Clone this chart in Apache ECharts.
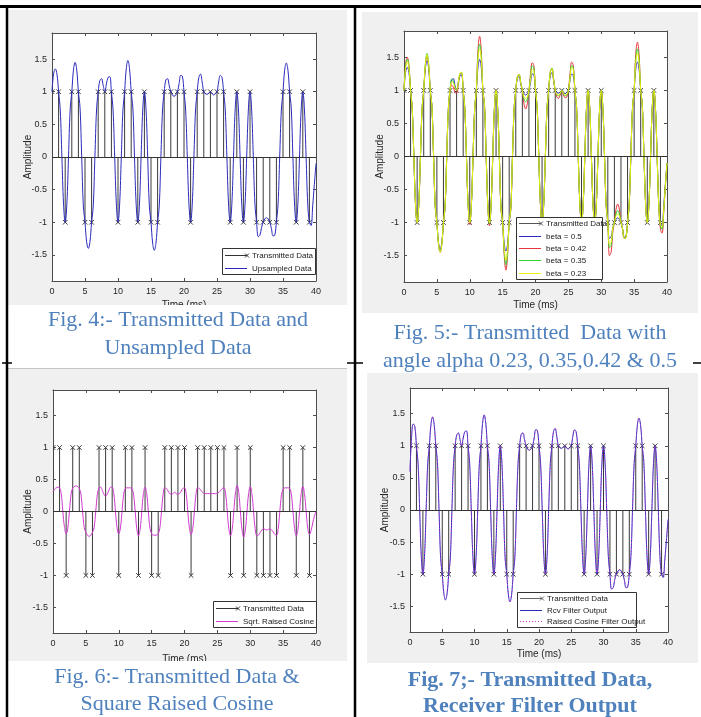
<!DOCTYPE html>
<html><head><meta charset="utf-8">
<script src="https://cdn.jsdelivr.net/npm/echarts@6/dist/echarts.min.js"></script>
<style>html,body{margin:0;padding:0;background:#fff}#c{width:701px;height:717px}</style>
</head><body><div id="c"></div><script>
// ---------- data ----------
const tBits = [0,1,2,3,4,5,6,7,8,9,10,11,12,13,14,15,16,17,18,19,20,21,22,23,24,25,26,27,28,29,30,31,32,33,34,35,36,37,38,39];
const bits = [1,1,-1,1,1,-1,-1,1,1,1,-1,1,1,-1,1,-1,-1,1,1,1,1,-1,1,1,1,1,1,-1,1,-1,1,-1,-1,-1,-1,1,1,-1,1,-1];
const tFine = [0,0.25,0.5,0.75,1,1.25,1.5,1.75,2,2.25,2.5,2.75,3,3.25,3.5,3.75,4,4.25,4.5,4.75,
 5,5.25,5.5,5.75,6,6.25,6.5,6.75,7,7.25,7.5,7.75,8,8.25,8.5,8.75,9,9.25,9.5,9.75,
 10,10.25,10.5,10.75,11,11.25,11.5,11.75,12,12.25,12.5,12.75,13,13.25,13.5,13.75,14,14.25,14.5,14.75,
 15,15.25,15.5,15.75,16,16.25,16.5,16.75,17,17.25,17.5,17.75,18,18.25,18.5,18.75,19,19.25,19.5,19.75,
 20,20.25,20.5,20.75,21,21.25,21.5,21.75,22,22.25,22.5,22.75,23,23.25,23.5,23.75,24,24.25,24.5,24.75,
 25,25.25,25.5,25.75,26,26.25,26.5,26.75,27,27.25,27.5,27.75,28,28.25,28.5,28.75,29,29.25,29.5,29.75,
 30,30.25,30.5,30.75,31,31.25,31.5,31.75,32,32.25,32.5,32.75,33,33.25,33.5,33.75,34,34.25,34.5,34.75,
 35,35.25,35.5,35.75,36,36.25,36.5,36.75,37,37.25,37.5,37.75,38,38.25,38.5,38.75,39,39.25,39.5,39.75,40];
const upsampled = [
 1.0,1.28,1.35,1.27, 1.0,0.72,0.0,-0.72, -1.0,-0.72,0.0,0.72, 1.0,1.33,1.45,1.33, 1.0,0.75,0.0,-0.75,
 -1.0,-1.30,-1.40,-1.30, -1.0,-0.75,0.0,0.72, 1.0,1.17,1.20,1.10, 1.0,1.12,1.22,1.23, 1.0,0.72,0.0,-0.72,
 -1.0,-0.72,0.0,0.72, 1.0,1.35,1.48,1.35, 1.0,0.75,0.0,-0.72, -1.0,-0.72,0.0,0.72, 1.0,0.72,0.0,-0.75,
 -1.0,-1.32,-1.43,-1.32, -1.0,-0.75,0.0,0.72, 1.0,1.18,1.20,1.10, 1.0,0.95,0.93,0.95, 1.0,1.12,1.25,1.24,
 1.0,0.72,0.0,-0.72, -1.0,-0.72,0.0,0.72, 1.0,1.22,1.27,1.15, 1.0,0.97,0.96,0.98, 1.0,0.97,0.95,0.97,
 1.0,1.15,1.25,1.22, 1.0,0.72,0.0,-0.72, -1.0,-0.72,0.0,0.72, 1.0,0.72,0.0,-0.72, -1.0,-0.72,0.0,0.72,
 1.0,0.72,0.0,-0.72, -1.0,-1.22,-1.20,-1.08, -1.0,-0.95,-0.93,-0.95, -1.0,-1.10,-1.21,-1.20, -1.0,-0.72,0.0,0.72,
 1.0,1.33,1.44,1.33, 1.0,0.75,0.0,-0.72, -1.0,-0.72,0.0,0.72, 1.0,0.72,0.0,-0.72, -1.0,-1.05,-0.75,-0.42,
 -0.1];
const beta050 = [
 1.0,1.28,1.35,1.27, 1.0,0.72,0.0,-0.72, -1.0,-0.72,0.0,0.72, 1.0,1.33,1.45,1.33, 1.0,0.75,0.0,-0.75,
 -1.0,-1.30,-1.40,-1.30, -1.0,-0.75,0.0,0.72, 1.0,1.16,1.18,1.08, 1.0,1.12,1.22,1.23, 1.0,0.72,0.0,-0.72,
 -1.0,-0.72,0.0,0.72, 1.0,1.35,1.47,1.35, 1.0,0.75,0.0,-0.72, -1.0,-0.72,0.0,0.72, 1.0,0.72,0.0,-0.75,
 -1.0,-1.32,-1.43,-1.32, -1.0,-0.75,0.0,0.72, 1.0,1.18,1.21,1.10, 1.0,0.95,0.93,0.95, 1.0,1.12,1.25,1.24,
 1.0,0.72,0.0,-0.72, -1.0,-0.72,0.0,0.72, 1.0,1.22,1.27,1.15, 1.0,0.97,0.96,0.98, 1.0,0.97,0.95,0.97,
 1.0,1.15,1.25,1.22, 1.0,0.72,0.0,-0.72, -1.0,-0.72,0.0,0.72, 1.0,0.72,0.0,-0.72, -1.0,-0.72,0.0,0.72,
 1.0,0.72,0.0,-0.72, -1.0,-1.24,-1.22,-1.08, -1.0,-0.95,-0.93,-0.95, -1.0,-1.10,-1.22,-1.21, -1.0,-0.72,0.0,0.72,
 1.0,1.32,1.43,1.32, 1.0,0.75,0.0,-0.72, -1.0,-0.72,0.0,0.72, 1.0,0.72,0.0,-0.72, -1.0,-1.05,-0.75,-0.42,
 -0.1];
const beta042 = [
 1.0,1.40,1.50,1.38, 1.0,0.72,0.0,-0.72, -1.0,-0.72,0.0,0.72, 1.0,1.38,1.52,1.38, 1.0,0.75,0.0,-0.75,
 -1.0,-1.33,-1.45,-1.33, -1.0,-0.75,0.0,0.72, 1.0,1.08,1.05,0.97, 0.96,1.08,1.24,1.26, 1.0,0.72,0.0,-0.72,
 -1.03,-0.72,0.0,0.72, 1.0,1.60,1.82,1.60, 1.0,0.78,0.0,-0.75, -1.05,-0.72,0.0,0.72, 1.0,0.72,0.0,-0.80,
 -1.0,-1.50,-1.72,-1.50, -1.0,-0.80,0.0,0.72, 1.0,1.20,1.24,1.12, 1.0,0.80,0.72,0.80, 1.0,1.25,1.42,1.38,
 1.0,0.75,0.0,-0.72, -1.0,-0.72,0.0,0.72, 1.0,1.28,1.33,1.18, 1.0,0.90,0.88,0.93, 1.0,0.93,0.89,0.90,
 1.0,1.25,1.43,1.38, 1.0,0.75,0.0,-0.72, -1.0,-0.72,0.0,0.72, 1.0,0.72,0.0,-0.72, -1.0,-0.72,0.0,0.72,
 1.0,0.72,0.0,-0.75, -1.0,-1.50,-1.45,-1.15, -1.0,-0.80,-0.72,-0.80, -1.0,-1.10,-1.24,-1.23, -1.0,-0.72,0.0,0.72,
 1.0,1.55,1.73,1.55, 1.0,0.78,0.0,-0.72, -1.0,-0.72,0.0,0.72, 1.0,0.72,0.0,-0.75, -1.10,-1.16,-0.85,-0.45,
 -0.1];
const beta035 = [
 1.0,1.37,1.47,1.36, 1.0,0.72,0.0,-0.72, -1.0,-0.72,0.0,0.72, 1.0,1.40,1.56,1.40, 1.0,0.75,0.0,-0.75,
 -1.0,-1.32,-1.44,-1.32, -1.0,-0.75,0.0,0.72, 1.0,1.17,1.14,1.05, 1.02,1.12,1.25,1.27, 1.0,0.72,0.0,-0.72,
 -1.0,-0.72,0.0,0.72, 1.0,1.52,1.70,1.52, 1.0,0.76,0.0,-0.75, -1.02,-0.72,0.0,0.72, 1.0,0.72,0.0,-0.78,
 -1.0,-1.45,-1.64,-1.45, -1.0,-0.78,0.0,0.72, 1.0,1.21,1.24,1.12, 1.0,0.87,0.83,0.87, 1.0,1.20,1.37,1.34,
 1.0,0.74,0.0,-0.72, -1.0,-0.72,0.0,0.72, 1.0,1.28,1.34,1.18, 1.0,0.93,0.92,0.95, 1.0,0.95,0.92,0.93,
 1.0,1.20,1.38,1.34, 1.0,0.74,0.0,-0.72, -1.0,-0.72,0.0,0.72, 1.0,0.72,0.0,-0.72, -1.0,-0.72,0.0,0.72,
 1.0,0.72,0.0,-0.74, -1.0,-1.38,-1.35,-1.10, -1.0,-0.87,-0.82,-0.87, -1.0,-1.10,-1.24,-1.23, -1.0,-0.72,0.0,0.72,
 1.0,1.47,1.63,1.47, 1.0,0.76,0.0,-0.72, -1.0,-0.72,0.0,0.72, 1.0,0.72,0.0,-0.74, -1.05,-1.10,-0.82,-0.45,
 -0.1];
const beta023 = [
 1.0,1.34,1.44,1.34, 1.0,0.72,0.0,-0.72, -1.0,-0.72,0.0,0.72, 1.0,1.39,1.54,1.39, 1.0,0.75,0.0,-0.75,
 -1.0,-1.33,-1.45,-1.33, -1.0,-0.75,0.0,0.72, 1.0,1.13,1.12,1.04, 1.0,1.12,1.26,1.28, 1.0,0.72,0.0,-0.72,
 -1.0,-0.72,0.0,0.72, 1.0,1.47,1.63,1.47, 1.0,0.76,0.0,-0.75, -1.0,-0.72,0.0,0.72, 1.0,0.72,0.0,-0.76,
 -1.0,-1.40,-1.57,-1.40, -1.0,-0.76,0.0,0.72, 1.0,1.21,1.24,1.12, 1.0,0.90,0.88,0.90, 1.0,1.17,1.32,1.30,
 1.0,0.74,0.0,-0.72, -1.0,-0.72,0.0,0.72, 1.0,1.27,1.33,1.17, 1.0,0.94,0.93,0.96, 1.0,0.96,0.93,0.94,
 1.0,1.18,1.35,1.32, 1.0,0.74,0.0,-0.72, -1.0,-0.72,0.0,0.72, 1.0,0.72,0.0,-0.72, -1.0,-0.72,0.0,0.72,
 1.0,0.72,0.0,-0.74, -1.0,-1.33,-1.30,-1.08, -1.0,-0.90,-0.87,-0.90, -1.0,-1.10,-1.24,-1.23, -1.0,-0.72,0.0,0.72,
 1.0,1.42,1.57,1.42, 1.0,0.76,0.0,-0.72, -1.0,-0.72,0.0,0.72, 1.0,0.72,0.0,-0.74, -1.03,-1.07,-0.80,-0.45,
 -0.1];
const sqrtRaisedCos = [
 0.31,0.35,0.37,0.38, 0.37,0.28,0.0,-0.25, -0.35,-0.26,0.0,0.27, 0.37,0.39,0.40,0.39, 0.36,0.27,0.0,-0.25,
 -0.33,-0.37,-0.39,-0.37, -0.33,-0.25,0.0,0.27, 0.37,0.38,0.33,0.27, 0.24,0.27,0.33,0.38, 0.38,0.28,0.0,-0.26,
 -0.35,-0.26,0.0,0.27, 0.36,0.37,0.37,0.37, 0.36,0.27,0.0,-0.27, -0.38,-0.28,0.0,0.28, 0.38,0.28,0.0,-0.26,
 -0.35,-0.37,-0.37,-0.37, -0.35,-0.26,0.0,0.27, 0.37,0.36,0.32,0.28, 0.27,0.28,0.30,0.28, 0.27,0.28,0.32,0.36,
 0.37,0.28,0.0,-0.26, -0.36,-0.27,0.0,0.27, 0.37,0.36,0.33,0.30, 0.28,0.28,0.28,0.28, 0.28,0.28,0.28,0.28,
 0.29,0.30,0.33,0.36, 0.37,0.28,0.0,-0.27, -0.38,-0.28,0.0,0.29, 0.41,0.30,0.0,-0.29, -0.40,-0.29,0.0,0.28,
 0.39,0.28,0.0,-0.27, -0.38,-0.37,-0.33,-0.29, -0.27,-0.28,-0.29,-0.28, -0.27,-0.29,-0.32,-0.36, -0.37,-0.27,0.0,0.26,
 0.35,0.37,0.37,0.37, 0.36,0.27,0.0,-0.27, -0.38,-0.28,0.0,0.28, 0.39,0.28,0.0,-0.26, -0.36,-0.30,-0.18,-0.08,
 0.0];
const rcvFilterOut = [
 0.6,1.15,1.34,1.30, 1.0,0.72,0.0,-0.72, -1.0,-0.72,0.0,0.72, 1.0,1.33,1.45,1.33, 1.0,0.75,0.0,-0.75,
 -1.0,-1.30,-1.40,-1.30, -1.0,-0.75,0.0,0.72, 1.0,1.17,1.20,1.10, 1.0,1.12,1.22,1.23, 1.0,0.72,0.0,-0.72,
 -1.0,-0.72,0.0,0.72, 1.0,1.35,1.48,1.35, 1.0,0.75,0.0,-0.72, -1.0,-0.72,0.0,0.72, 1.0,0.72,0.0,-0.75,
 -1.0,-1.32,-1.43,-1.32, -1.0,-0.75,0.0,0.72, 1.0,1.18,1.20,1.10, 1.0,0.95,0.93,0.95, 1.0,1.12,1.25,1.24,
 1.0,0.72,0.0,-0.72, -1.0,-0.72,0.0,0.72, 1.0,1.22,1.27,1.15, 1.0,0.97,0.96,0.98, 1.0,0.97,0.95,0.97,
 1.0,1.15,1.25,1.22, 1.0,0.72,0.0,-0.72, -1.0,-0.72,0.0,0.72, 1.0,0.72,0.0,-0.72, -1.0,-0.72,0.0,0.72,
 1.0,0.72,0.0,-0.72, -1.0,-1.23,-1.21,-1.08, -1.0,-0.95,-0.93,-0.95, -1.0,-1.10,-1.21,-1.20, -1.0,-0.72,0.0,0.72,
 1.0,1.32,1.43,1.32, 1.0,0.75,0.0,-0.72, -1.0,-0.72,0.0,0.72, 1.0,0.72,0.0,-0.72, -1.0,-1.05,-0.78,-0.48,
 -0.15];
const raisedCosOut = [
 0.6,1.15,1.34,1.30, 1.0,0.72,0.0,-0.72, -1.0,-0.72,0.0,0.72, 1.0,1.33,1.45,1.33, 1.0,0.75,0.0,-0.75,
 -1.0,-1.30,-1.40,-1.30, -1.0,-0.75,0.0,0.72, 1.0,1.17,1.20,1.10, 1.0,1.12,1.22,1.23, 1.0,0.72,0.0,-0.72,
 -1.0,-0.72,0.0,0.72, 1.0,1.35,1.48,1.35, 1.0,0.75,0.0,-0.72, -1.0,-0.72,0.0,0.72, 1.0,0.72,0.0,-0.75,
 -1.0,-1.32,-1.43,-1.32, -1.0,-0.75,0.0,0.72, 1.0,1.18,1.20,1.10, 1.0,0.95,0.93,0.95, 1.0,1.12,1.25,1.24,
 1.0,0.72,0.0,-0.72, -1.0,-0.72,0.0,0.72, 1.0,1.22,1.27,1.15, 1.0,0.97,0.96,0.98, 1.0,0.97,0.95,0.97,
 1.0,1.15,1.25,1.22, 1.0,0.72,0.0,-0.72, -1.0,-0.72,0.0,0.72, 1.0,0.72,0.0,-0.72, -1.0,-0.72,0.0,0.72,
 1.0,0.72,0.0,-0.72, -1.0,-1.23,-1.21,-1.08, -1.0,-0.95,-0.93,-0.95, -1.0,-1.10,-1.21,-1.20, -1.0,-0.72,0.0,0.72,
 1.0,1.32,1.43,1.32, 1.0,0.75,0.0,-0.72, -1.0,-0.72,0.0,0.72, 1.0,0.72,0.0,-0.72, -1.0,-1.05,-0.78,-0.48,
 -0.15];
const yTicks = [-1.5,-1,-0.5,0,0.5,1,1.5];
const xTickStep = 5;
const captions = [
  ['Fig. 4:- Transmitted Data and','Unsampled Data'],
  ['Fig. 5:- Transmitted  Data with','angle alpha 0.23, 0.35,0.42 & 0.5'],
  ['Fig. 6:- Transmitted Data &','Square Raised Cosine'],
  ['Fig. 7;- Transmitted Data,','Receiver Filter Output']
];

// ---------- layout ----------
const FF = '"Liberation Sans", Arial, sans-serif';
const AX = '#4d4d4d';
const TXT = '#262626';
const grids = [
  {left:52, top:33, width:264, height:248},
  {left:404, top:31, width:263, height:251},
  {left:53, top:390, width:263, height:243},
  {left:410, top:388, width:258, height:244}
];
const xNameGap = [19,18,21,17];
const yNameGap = [19,19,20,20];

const option = {
  animation:false, backgroundColor:'#fff',
  grid: grids.map(g=>Object.assign({show:true, backgroundColor:'#fff', borderWidth:0}, g)),
  xAxis:[], yAxis:[], series:[], graphic:{elements:[]}
};
grids.forEach((g,gi)=>{
  const common = {gridIndex:gi, type:'value', min:0, max:40, interval:xTickStep, splitLine:{show:false},
    axisLine:{onZero:false, lineStyle:{color:AX, width:1}}, axisTick:{inside:true, length:3, lineStyle:{color:AX}}};
  option.xAxis.push(Object.assign({}, common, {position:'bottom', name:'Time (ms)', nameLocation:'middle', nameGap:xNameGap[gi],
    nameMoveOverlap:false, nameTextStyle:{fontSize:10, color:TXT, fontFamily:FF},
    axisLabel:{fontSize:9, color:TXT, margin:6, fontFamily:FF}}));
  option.xAxis.push(Object.assign({}, common, {position:'top', axisLabel:{show:false}}));
  const ycommon = {gridIndex:gi, type:'value', min:-1.9, max:1.9, splitLine:{show:false},
    axisLine:{onZero:false, lineStyle:{color:AX, width:1}},
    axisTick:{inside:true, length:3, customValues:yTicks, lineStyle:{color:AX}}};
  option.yAxis.push(Object.assign({}, ycommon, {position:'left', name:'Amplitude', nameLocation:'middle', nameGap:yNameGap[gi], nameRotate:90,
    nameMoveOverlap:false, nameTextStyle:{fontSize:10, color:TXT, fontFamily:FF},
    axisLabel:{customValues:yTicks, fontSize:9, color:TXT, margin:5, fontFamily:FF}}));
  option.yAxis.push(Object.assign({}, ycommon, {position:'right', axisLabel:{show:false}}));
});

function renderStem(params, api){
  const x = api.value(0), y = api.value(1);
  const p0 = api.coord([x,0]), p1 = api.coord([x,y]);
  const s = 2.3, c = '#3a3a3a';
  return {type:'group', children:[
    {type:'line', shape:{x1:p0[0],y1:p0[1],x2:p1[0],y2:p1[1]}, style:{stroke:c, lineWidth:1}},
    {type:'line', shape:{x1:p1[0]-s,y1:p1[1]-s,x2:p1[0]+s,y2:p1[1]+s}, style:{stroke:c, lineWidth:1}},
    {type:'line', shape:{x1:p1[0]-s,y1:p1[1]+s,x2:p1[0]+s,y2:p1[1]-s}, style:{stroke:c, lineWidth:1}}
  ]};
}
function stemSeries(gi){
  return {type:'custom', name:'Transmitted Data', xAxisIndex:gi*2, yAxisIndex:gi*2, z:2, clip:true,
    data: tBits.map((t,i)=>[t,bits[i]]), renderItem: renderStem,
    markLine:{silent:true, symbol:'none', label:{show:false}, animation:false,
      lineStyle:{color:'#333', type:'solid', width:1}, data:[{yAxis:0}]}};
}
function curveSeries(gi, name, vals, color, extra){
  return Object.assign({type:'line', name, xAxisIndex:gi*2, yAxisIndex:gi*2, z:3,
    data: tFine.map((t,i)=>[t, vals[i]]), smooth:0.4, showSymbol:false, symbol:'none', clip:true,
    lineStyle:{color, width:1}}, extra||{});
}
const BLUE = '#2b2bbd', RED = '#e8353a', GREEN = '#2fd22f', YEL = '#eeee10', MAG = '#d23ad2';
option.series.push(stemSeries(0), curveSeries(0,'Upsampled Data',upsampled,BLUE));
option.series.push(stemSeries(1),
  curveSeries(1,'beta = 0.5',beta050,BLUE),
  curveSeries(1,'beta = 0.42',beta042,RED),
  curveSeries(1,'beta = 0.35',beta035,GREEN),
  curveSeries(1,'beta = 0.23',beta023,YEL));
option.series.push(stemSeries(2), curveSeries(2,'Sqrt. Raised Cosine',sqrtRaisedCos,MAG));
option.series.push(stemSeries(3),
  curveSeries(3,'Rcv Filter Output',rcvFilterOut,BLUE),
  curveSeries(3,'Raised Cosine Filter Output',raisedCosOut,MAG,{z:4, lineStyle:{color:MAG, width:1, type:[1,2]}}));

// ---------- decorations ----------
const G = option.graphic.elements;
function rect(x,y,w,h,fill,z,stroke){ G.push({type:'rect', shape:{x,y,width:w,height:h}, style:{fill, stroke:stroke||null, lineWidth:1}, z, silent:true}); }
function line(x1,y1,x2,y2,stroke,w,z,dash){ G.push({type:'line', shape:{x1,y1,x2,y2}, style:{stroke, lineWidth:w, lineDash:dash||null}, z, silent:true}); }
function text(x,y,t,font,fill,align,z){ G.push({type:'text', x, y, style:{text:t, font, fill, align:align||'left', verticalAlign:'middle'}, z, silent:true}); }

// figure backgrounds
rect(8,10,339,295,'#f0f0f0',-10);
rect(362,12,336,301,'#f0f0f0',-10);
rect(8,368,339,293,'#f0f0f0',-10);
rect(367,373,331,290,'#f0f0f0',-10);
line(8,368.5,347,368.5,'#c4c4c4',1,-9);
// white covers (clip cut x-axis titles)
rect(8,305,342,9,'#fff',100);
rect(8,661,342,8,'#fff',100);

// legends
function legend(x,y,w,h,items){
  rect(x+0.5,y+0.5,w,h,'#fff',50,'#333');
  const rh = h/items.length;
  items.forEach((it,i)=>{
    const cy = Math.round(y + rh*(i+0.5)) + 0.5;
    line(x+3,cy,x+25,cy,it.color,1,51,it.dash);
    if(it.marker){ const s=2, mx=x+25; line(mx-s,cy-s,mx+s,cy+s,it.color,1,51); line(mx-s,cy+s,mx+s,cy-s,it.color,1,51); }
    text(x+30,cy,it.text,'8px '+FF,'#1a1a1a','left',52);
  });
}
legend(222,248,93,26,[{text:'Transmitted Data',color:'#333',marker:true},{text:'Upsampled Data',color:BLUE}]);
legend(516,217,86,62,[{text:'Transmitted Data',color:'#555',marker:true},{text:'beta = 0.5',color:BLUE},{text:'beta = 0.42',color:RED},{text:'beta = 0.35',color:GREEN},{text:'beta = 0.23',color:YEL}]);
legend(213,601,103,26,[{text:'Transmitted Data',color:'#333',marker:true},{text:'Sqrt. Raised Cosine',color:MAG}]);
legend(517,592,119,35,[{text:'Transmitted Data',color:'#666',marker:true},{text:'Rcv Filter Output',color:BLUE},{text:'Raised Cosine Filter Output',color:MAG,dash:[1,2]}]);

// captions
const CAP = '#4f81bd';
const capPos = [[178,320,348,false],[530,333,361,false],[177,677,704,false],[530,680,706,true]];
captions.forEach((c,i)=>{
  const p = capPos[i];
  const f = (p[3]?'bold ':'') + '22px "Liberation Serif", "Times New Roman", serif';
  text(p[0],p[1],c[0],f,CAP,'center',100);
  text(p[0],p[2],c[1],f,CAP,'center',100);
});

// table borders
line(0,6.5,701,6.5,'#000',3,110);
line(7,5,7,717,'#000',2.5,110);
line(355,5,355,717,'#000',2.5,110);
line(347,363,363,363,'#000',1.5,110);
line(2,363,12,363,'#000',1.5,110);
line(693,363,701,363,'#000',1.5,110);

const chart = echarts.init(document.getElementById('c'), null, {renderer:'canvas'});
chart.setOption(option);
</script></body></html>
